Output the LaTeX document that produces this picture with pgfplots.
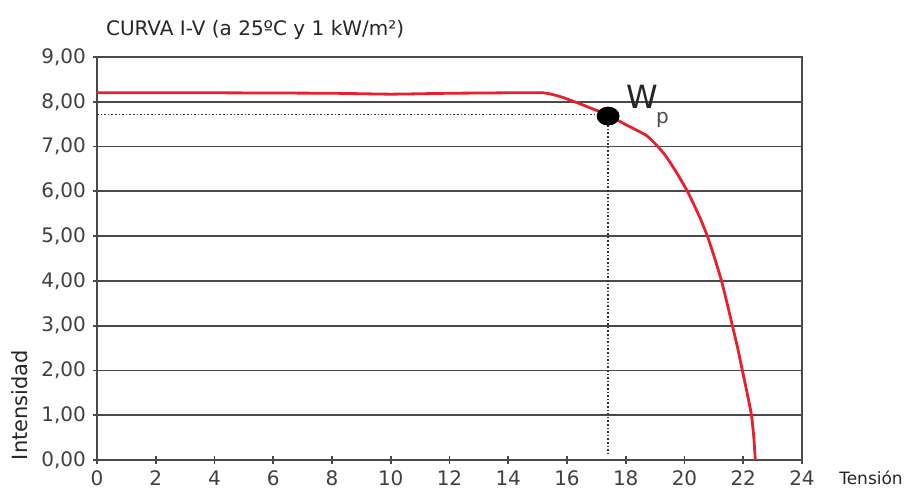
\documentclass[border=0pt]{standalone}
\usepackage{pgfplots}
\pgfplotsset{compat=1.18}
\usepackage{fontspec}
\setmainfont{DejaVu Sans}
\definecolor{curvered}{HTML}{E8202E}
\definecolor{gridgray}{HTML}{4A4A4A}
\begin{document}
\begin{tikzpicture}
\begin{axis}[
  scale only axis,
  width=352.5pt, height=201.5pt,
  xmin=0, xmax=24, ymin=0, ymax=9,
  xtick={0,2,...,24}, ytick={0,1,...,9},
  axis line style={gridgray, line width=0.9pt},
  ymajorgrids,
  major grid style={gridgray, line width=0.9pt},
  tick align=center,
  major tick length=4pt,
  tick style={gridgray, line width=0.9pt},
  xtick pos=bottom, ytick pos=left,
  tick label style={font=\fontsize{10}{12}\selectfont, text=black!75},
  /pgf/number format/assume math mode=true,
  yticklabel style={/pgf/number format/.cd, fixed, fixed zerofill, precision=2, use comma},
  xticklabel style={/pgf/number format/.cd, fixed, precision=0},
  clip=false,
]
\addplot[black!80, densely dotted, line width=0.8pt] coordinates {(0,7.72) (17.4,7.72)};
\addplot[black!80, densely dotted, line width=0.8pt] coordinates {(17.4,7.72) (17.4,0.1)};
\addplot[curvered, line width=1.4pt, smooth, tension=0.3] coordinates {
(0,8.2) (4,8.2) (8,8.19) (10,8.17) (12,8.19) (14,8.2) (15.2,8.2)
(15.75,8.12) (16.3,7.99) (17.0,7.81) (17.4,7.7) (18.0,7.49) (18.7,7.25)
(19.05,7.03) (19.35,6.8) (19.7,6.45) (20.1,6.0) (20.5,5.45) (20.78,5.0)
(21.03,4.5) (21.26,4.0) (21.45,3.5) (21.63,3.0) (21.81,2.5) (21.97,2.0)
(22.13,1.5) (22.28,1.0) (22.36,0.5) (22.41,0)};
\addplot[only marks, mark=*, mark size=4.6pt, mark options={black, xscale=1.2, yscale=0.98}] coordinates {(17.4,7.68)};
\node[font=\fontsize{16}{16}\selectfont, text=black!85] at (axis cs:18.55,8.1) {W};
\node[font=\fontsize{10}{10}\selectfont, text=black!70] at (axis cs:19.25,7.6) {p};
\node[anchor=west, font=\fontsize{10}{12}\selectfont, text=black!85] at ([xshift=1pt, yshift=13.5pt]rel axis cs:0,1) {CURVA I-V (a 25ºC y 1 kW/m²)};
\node[font=\fontsize{8.5}{10}\selectfont, text=black!85] at ([xshift=34.5pt, yshift=-9pt]rel axis cs:1,0) {Tensión};
\node[rotate=90, font=\fontsize{10.5}{12}\selectfont, text=black!85] at ([xshift=-38.5pt, yshift=27.5pt]rel axis cs:0,0) {Intensidad};
\end{axis}
\path ([xshift=-48.5pt, yshift=-15pt]current axis.south west) rectangle ([xshift=55pt, yshift=28.5pt]current axis.north east);
\end{tikzpicture}
\end{document}
